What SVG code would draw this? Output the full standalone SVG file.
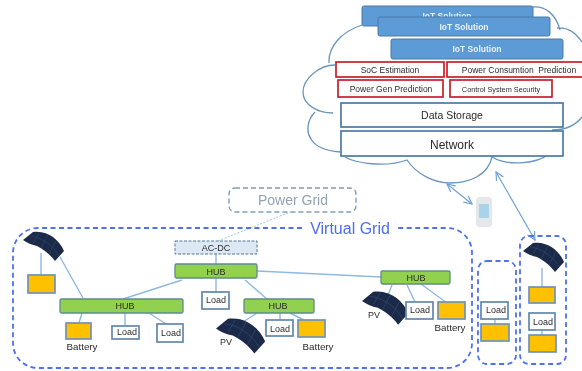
<svg xmlns="http://www.w3.org/2000/svg" width="582" height="371" viewBox="0 0 582 371">
<style>
text{font-family:"Liberation Sans",Arial,sans-serif;text-anchor:middle;fill:#2b2b2b;white-space:pre}
.iot{fill:#5b9bd5;stroke:#4a7ba8;stroke-width:1}
.iott{font-size:8.5px;font-weight:bold;fill:#e8f0f8}
.red{fill:#fff;stroke:#c8202c;stroke-width:1.7}
.redt{font-size:8.5px}
.st{fill:#fff;stroke:#41719c;stroke-width:1.6}
.hub{fill:#92d050;stroke:#5f8a8f;stroke-width:1.3}
.bat{fill:#ffc000;stroke:#6f93b5;stroke-width:1.7}
.load{fill:#fff;stroke:#6288aa;stroke-width:1.7}
.t9{font-size:9px}
.t10{font-size:9.8px}
.dash{fill:none;stroke:#4f70f0;stroke-width:1.8;stroke-dasharray:5 3.5}
.cloud{fill:none;stroke:#6b95bd;stroke-width:1.3}
.c{fill:none;stroke:#8fb9e0;stroke-width:1.4}
.a{fill:none;stroke:#6fa3d6;stroke-width:1.2;marker-start:url(#ah);marker-end:url(#ah)}
</style>
<defs>
<filter id="soft" x="0" y="0" width="100%" height="100%"><feGaussianBlur stdDeviation="0.4"/></filter>
<marker id="ah" viewBox="0 0 10 10" refX="9" refY="5" markerWidth="10" markerHeight="10" orient="auto-start-reverse" markerUnits="userSpaceOnUse"><path d="M1 1L9 5L1 9" fill="none" stroke="#6fa3d6" stroke-width="1.2"/></marker>
<g id="panel"><path d="M0 7L10 -1C24 -3 36 6 41 18L32 28C27 21 20 16 14 13C9 12 4 10 0 7Z" fill="#1a2a4a"/><path d="M7 3C18 4 30 12 36 23M16 0L10 10M25 2L18 15M33 8L26 21" fill="none" stroke="#33496f" stroke-width=".6"/></g>
</defs>
<g filter="url(#soft)">
<rect width="582" height="371" fill="#fff"/>
<g id="cloud">
<path class="cloud" d="M362 25C340 32 328 48 329 63M335 65C318 65 303 80 303 92C303 105 318 113 333 113M315 112C307 120 306 132 311 139C316 148 328 151 340 152M345 157C355 163 385 168 407 160C417 175 435 183 450 183C470 183 488 175 492 157C505 165 535 166 550 153M552 130C565 130 575 126 582 117M533 7C545 6 556 14 560 30M557 28C568 27 576 33 582 42"/>
</g>

<g id="connectors">
<path class="c" d="M41 253V275M60 257L83 298M216 254V264M216 278V292M182 280L123 299M245 280L267 299M257 271L381 277M82 313L79 323M125 313V326M149 313L166 324M257 313L243 322M280 313V320M290 313L308 322M392 285L385 303M407 285L415 302M421 284L447 303M495 319V324M542 268V287M542 330V335"/>
<path d="M218 241L290 212" fill="none" stroke="#9dc3e6" stroke-width="1" stroke-dasharray="2 1.5"/>
<path class="a" d="M447 184L472 204"/>
<path class="a" d="M496 172L535 240"/>
</g>

<g id="iot1"><rect class="iot" x="362" y="6" width="171" height="20" rx="2"/><text class="iott" x="447" y="19">IoT Solution</text></g>
<g id="iot2"><rect class="iot" x="378" y="17" width="172" height="19" rx="2"/><text class="iott" x="464" y="30">IoT Solution</text></g>
<g id="iot3"><rect class="iot" x="391" y="39" width="172" height="20" rx="2"/><text class="iott" x="477" y="52">IoT Solution</text></g>
<g id="soc"><rect class="red" x="336" y="62" width="108" height="15"/><text class="redt" x="390" y="73">SoC Estimation</text></g>
<g id="powercons"><rect class="red" x="447" y="62" width="136" height="15"/><text class="redt" x="519" y="73">Power Consumtion  Prediction</text></g>
<g id="powergen"><rect class="red" x="338" y="80" width="105" height="17"/><text class="redt" x="391" y="92">Power Gen Prediction</text></g>
<g id="security"><rect class="red" x="450" y="80" width="102" height="17"/><text x="501" y="92" font-size="7.3">Control System Security</text></g>
<g id="datastorage"><rect class="st" x="341" y="103" width="222" height="24"/><text x="452" y="119" font-size="10.5">Data Storage</text></g>
<g id="network"><rect class="st" x="341" y="131" width="222" height="25"/><text x="452" y="149" font-size="12">Network</text></g>

<g id="phone"><rect x="476" y="197" width="16" height="30" rx="3.5" fill="#e4e8ea"/><rect x="479" y="204" width="10" height="14" fill="#a9d3e8"/></g>

<g id="powergrid"><rect x="229" y="188" width="127" height="24" rx="6" fill="#fff" stroke="#7f9db9" stroke-width="1.4" stroke-dasharray="5 3"/><text x="293" y="205" font-size="14" style="fill:#93a3b0">Power Grid</text></g>

<g id="virtualgrid"><path class="dash" d="M302 228H38C24 228 13 239 13 253V343C13 357 24 368 38 368H447C461 368 472 357 472 343V253C472 239 461 228 447 228H398"/><text x="350" y="234" font-size="16" style="fill:#4d6cf0">Virtual Grid</text></g>

<g id="acdc"><rect x="175" y="241" width="82" height="13" fill="#dce8f4" stroke="#54779b" stroke-width="1" stroke-dasharray="3 1.5"/><text class="t9" x="216" y="251">AC-DC</text></g>
<g id="hub-main"><rect class="hub" x="175" y="264" width="82" height="14" rx="1.5"/><text class="t9" x="216" y="275">HUB</text></g>
<g id="load-main"><rect class="load" x="202" y="292" width="27" height="17"/><text class="t9" x="216" y="303">Load</text></g>
<g id="hub-left"><rect class="hub" x="60" y="299" width="123" height="14" rx="1.5"/><text class="t9" x="125" y="309">HUB</text></g>
<g id="battery-left"><rect class="bat" x="66" y="323" width="25" height="16"/><text class="t10" x="82" y="350">Battery</text></g>
<g id="load-l1"><rect class="load" x="112" y="326" width="27" height="13"/><text class="t9" x="127" y="335">Load</text></g>
<g id="load-l2"><rect class="load" x="157" y="324" width="26" height="18"/><text class="t9" x="171" y="336">Load</text></g>
<g id="panel-left"><use href="#panel" x="23" y="233"/></g>
<g id="store-left"><rect class="bat" x="28" y="275" width="27" height="18"/></g>

<g id="hub-mid"><rect class="hub" x="244" y="299" width="70" height="14" rx="1.5"/><text class="t9" x="278" y="309">HUB</text></g>
<g id="panel-mid"><use href="#panel" transform="translate(216 320) scale(1.2)"/><text class="t9" x="226" y="345">PV</text></g>
<g id="load-mid"><rect class="load" x="266" y="320" width="27" height="16"/><text class="t9" x="280" y="332">Load</text></g>
<g id="battery-mid"><rect class="bat" x="298" y="320" width="27" height="17"/><text class="t10" x="318" y="350">Battery</text></g>

<g id="hub-right"><rect class="hub" x="381" y="271" width="69" height="13" rx="1.5"/><text class="t9" x="416" y="281">HUB</text></g>
<g id="panel-right"><use href="#panel" transform="translate(362 293) scale(1.13)"/><text class="t9" x="374" y="318">PV</text></g>
<g id="load-right"><rect class="load" x="406" y="302" width="27" height="17"/><text class="t9" x="420" y="313">Load</text></g>
<g id="battery-right"><rect class="bat" x="438" y="302" width="27" height="17"/><text class="t10" x="450" y="331">Battery</text></g>

<g id="group-load"><rect class="dash" x="478" y="261" width="38" height="103" rx="9"/><rect class="load" x="481" y="302" width="27" height="17"/><text class="t9" x="496" y="313">Load</text><rect class="bat" x="481" y="324" width="28" height="17"/></g>
<g id="group-right"><rect class="dash" x="520" y="236" width="46" height="128" rx="9"/><use href="#panel" x="523" y="244"/><rect class="bat" x="529" y="287" width="26" height="16"/><rect class="load" x="529" y="313" width="26" height="17"/><text class="t9" x="543" y="325">Load</text><rect class="bat" x="529" y="335" width="27" height="17"/></g>
</g>
</svg>
